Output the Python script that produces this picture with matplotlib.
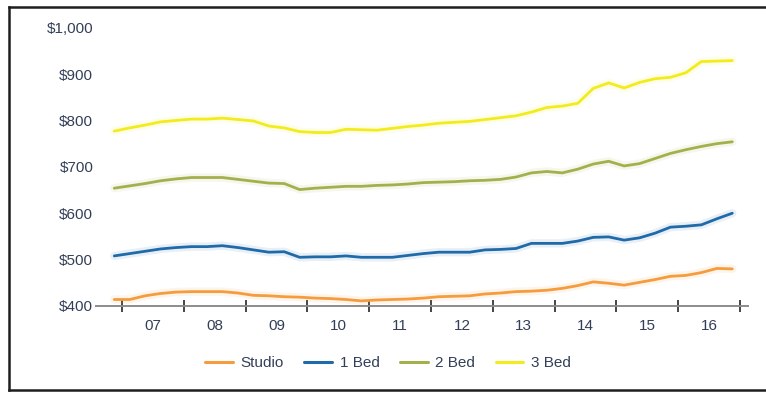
import matplotlib
matplotlib.use("Agg")
import matplotlib.pyplot as plt
from matplotlib.lines import Line2D

# Quarterly observations, expressed as fractional years (Q4 2006 .. Q4 2016)
dates = [2006.875 + 0.25 * i for i in range(41)]

studio = [414, 414, 422, 427, 430, 431, 431, 431, 428, 423,
          422, 420, 419, 417, 416, 414, 411, 413, 414, 415,
          417, 420, 421, 422, 426, 428, 431, 432, 434, 438,
          444, 452, 449, 445, 451, 457, 464, 466, 472, 481, 480]

one_bed = [508, 513, 518, 523, 526, 528, 528, 530, 526, 521,
           516, 517, 505, 506, 506, 508, 505, 505, 505, 509,
           513, 516, 516, 516, 521, 522, 524, 535, 535, 535,
           540, 548, 549, 542, 547, 557, 570, 572, 575, 588, 600]

two_bed = [654, 659, 664, 670, 674, 677, 677, 677, 673, 669,
           665, 664, 651, 654, 656, 658, 658, 660, 661, 663,
           666, 667, 668, 670, 671, 673, 678, 687, 690, 687,
           695, 706, 712, 702, 707, 718, 729, 737, 744, 750, 754]

three_bed = [777, 784, 790, 797, 800, 803, 803, 805, 802, 799,
             788, 784, 776, 774, 774, 781, 780, 779, 783, 787,
             790, 794, 796, 798, 802, 806, 810, 818, 828, 831,
             837, 869, 881, 870, 882, 890, 893, 903, 927, 928, 929]

series_names = ["Studio", "1 Bed", "2 Bed", "3 Bed"]
series_colors = ["#f59c3c", "#1f6aa8", "#a4b04c", "#f2ec1e"]

year_bounds = list(range(2007, 2018))
year_labels = ["07", "08", "09", "10", "11", "12", "13", "14", "15", "16"]
y_ticks = [400, 500, 600, 700, 800, 900, 1000]
y_labels = ["$400", "$500", "$600", "$700", "$800", "$900", "$1,000"]

W, H = 766, 393
fig = plt.figure(figsize=(W / 100, H / 100), dpi=100)
fig.patch.set_facecolor("white")

left_px, right_px, top_px, bottom_px = 96, 748, 27.7, 306
ax = fig.add_axes([left_px / W, 1 - bottom_px / H,
                   (right_px - left_px) / W, (bottom_px - top_px) / H])

text_color = "#333f58"
font = "Liberation Sans"

for vals, name, col in zip([studio, one_bed, two_bed, three_bed],
                           series_names, series_colors):
    ax.plot(dates, vals, color=col, lw=6, alpha=0.10,
            solid_capstyle="round", zorder=2)
    ax.plot(dates, vals, color=col, lw=2.0, label=name,
            solid_capstyle="round", solid_joinstyle="round", zorder=3)

ax.set_ylim(400, 1000)
ax.set_xlim(2007 + (left_px - 122) / 61.8, 2007 + (right_px - 122) / 61.8)

for s in ["top", "right", "left"]:
    ax.spines[s].set_visible(False)
ax.spines["bottom"].set_color("#8c8c8c")
ax.spines["bottom"].set_linewidth(1.4)

ax.set_yticks(y_ticks)
ax.set_yticklabels(y_labels, fontsize=11, color=text_color, family=font)
ax.tick_params(axis="y", length=0, pad=2)

ax.set_xticks(year_bounds)
ax.set_xticklabels([])
ax.tick_params(axis="x", which="major", direction="inout", length=9,
               width=1.4, color="#444444")
ax.set_xticks([y + 0.5 for y in year_bounds[:-1]], minor=True)
ax.set_xticklabels(year_labels, minor=True, fontsize=11, color=text_color,
                   family=font)
ax.tick_params(axis="x", which="minor", length=0, pad=9)

leg = fig.legend(loc="center", bbox_to_anchor=(388 / W, 1 - 363 / H),
                 ncol=4, frameon=False, handlelength=1.8, handletextpad=0.5,
                 columnspacing=1.35, prop={"family": font, "size": 11})
for t in leg.get_texts():
    t.set_color(text_color)
for h in leg.get_lines():
    h.set_linewidth(2.2)

# outer frame around the whole graphic (open on the right side)
fx0, fy_top, fy_bot = 8.5 / W, 1 - 6.5 / H, 1 - 389.5 / H
frame_kw = dict(transform=fig.transFigure, color="#1e1e1e", linewidth=1.8,
                solid_capstyle="projecting")
fig.add_artist(Line2D([fx0, 1.01], [fy_top, fy_top], **frame_kw))
fig.add_artist(Line2D([fx0, 1.01], [fy_bot, fy_bot], **frame_kw))
fig.add_artist(Line2D([fx0, fx0], [fy_bot, fy_top], **frame_kw))

fig.savefig("out.png", dpi=100, facecolor="white")
